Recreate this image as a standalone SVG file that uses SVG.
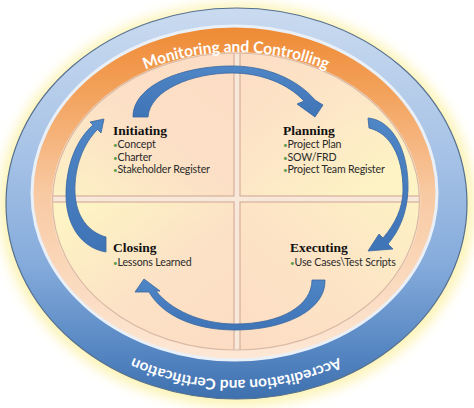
<svg xmlns="http://www.w3.org/2000/svg" width="474" height="408" viewBox="0 0 474 408">
<style>
.title{font-family:"Liberation Serif","DejaVu Serif",serif;font-weight:bold;font-size:13.5px;fill:#111}
.item{font-family:Lato,"Liberation Sans",sans-serif;font-size:10.6px;letter-spacing:-0.15px;fill:#2a2a2a}
.dot{fill:#5a9e4b;font-size:8px}
.ring{font-family:Lato,"Liberation Sans",sans-serif;font-weight:bold;fill:#ffffff}
.quad{stroke:#d6b09a;stroke-width:1.2}
.arrow{fill:url(#gArrow);stroke:#3a679f;stroke-width:0.8;stroke-linejoin:round}
</style>
<defs>
<filter id="blur" x="-20%" y="-20%" width="140%" height="140%"><feGaussianBlur stdDeviation="6"/></filter>
<linearGradient id="gBlue" x1="0" y1="0" x2="0" y2="1">
<stop offset="0" stop-color="#cadbf0"/><stop offset="0.35" stop-color="#a9c4e7"/><stop offset="0.65" stop-color="#86acdc"/><stop offset="0.88" stop-color="#5586c2"/><stop offset="1" stop-color="#3e70ae"/>
</linearGradient>
<linearGradient id="gOrange" gradientUnits="userSpaceOnUse" x1="0" y1="26" x2="0" y2="360">
<stop offset="0" stop-color="#ee8a34"/><stop offset="0.2" stop-color="#f3a25c"/><stop offset="0.5" stop-color="#f8c9a2"/><stop offset="1" stop-color="#fde8d6"/>
</linearGradient>
<linearGradient id="gTL" x1="1" y1="0" x2="0" y2="1"><stop offset="0" stop-color="#fcdcc4"/><stop offset="0.5" stop-color="#fce0c6"/><stop offset="1" stop-color="#fdf3c4"/></linearGradient>
<linearGradient id="gTR" x1="0" y1="0" x2="1" y2="1"><stop offset="0" stop-color="#fcdcc4"/><stop offset="0.45" stop-color="#fde6c7"/><stop offset="0.8" stop-color="#fdf3c4"/></linearGradient>
<linearGradient id="gBL" x1="1" y1="1" x2="0" y2="0"><stop offset="0" stop-color="#fcdcc4"/><stop offset="0.45" stop-color="#fce2c6"/><stop offset="0.85" stop-color="#fdf3c4"/></linearGradient>
<linearGradient id="gBR" x1="0" y1="1" x2="1" y2="0"><stop offset="0" stop-color="#fcdcc4"/><stop offset="0.5" stop-color="#fde4c6"/><stop offset="1" stop-color="#fdf3c4"/></linearGradient>
<linearGradient id="gArrow" x1="0" y1="0" x2="0" y2="1"><stop offset="0" stop-color="#4f86c6"/><stop offset="1" stop-color="#3f74b6"/></linearGradient>
<clipPath id="clipQ"><ellipse cx="236" cy="201.5" rx="183.5" ry="148.5"/></clipPath>
<path id="arcTop" d="M44,200 A192,148 0 0 1 428,200"/>
<path id="arcBottom" d="M450,198 A214,182 0 0 1 22,198"/>
</defs>

<g id="frame">
<ellipse cx="237" cy="205" rx="238" ry="202" fill="#fbf0a0" opacity="0.75" filter="url(#blur)"/>
<ellipse cx="236.5" cy="203.5" rx="230.5" ry="195.5" fill="url(#gBlue)" stroke="#56708f" stroke-width="1.2"/>
<ellipse cx="234.5" cy="193" rx="202.5" ry="167" fill="url(#gOrange)" stroke="#eaf0f8" stroke-width="3"/>
<ellipse cx="236" cy="201.5" rx="184.5" ry="149.5" fill="#f7e8da"/>
</g>

<g id="node-initiating">
<rect class="quad" x="30" y="40" width="204" height="156" fill="url(#gTL)" clip-path="url(#clipQ)"/>
<text class="title" x="113" y="135">Initiating</text>
<text class="item" x="113" y="148"><tspan class="dot">•</tspan>Concept</text>
<text class="item" x="113" y="160.7"><tspan class="dot">•</tspan>Charter</text>
<text class="item" x="113" y="173.4"><tspan class="dot">•</tspan>Stakeholder Register</text>
</g>

<g id="node-planning">
<rect class="quad" x="240" y="40" width="200" height="156" fill="url(#gTR)" clip-path="url(#clipQ)"/>
<text class="title" x="283" y="135">Planning</text>
<text class="item" x="283" y="148"><tspan class="dot">•</tspan>Project Plan</text>
<text class="item" x="283" y="160.7"><tspan class="dot">•</tspan>SOW/FRD</text>
<text class="item" x="283" y="173.4"><tspan class="dot">•</tspan>Project Team Register</text>
</g>

<g id="node-closing">
<rect class="quad" x="30" y="202" width="204" height="160" fill="url(#gBL)" clip-path="url(#clipQ)"/>
<text class="title" x="113" y="252">Closing</text>
<text class="item" x="113" y="265.5"><tspan class="dot">•</tspan>Lessons Learned</text>
</g>

<g id="node-executing">
<rect class="quad" x="240" y="202" width="200" height="160" fill="url(#gBR)" clip-path="url(#clipQ)"/>
<text class="title" x="290" y="252">Executing</text>
<text class="item" x="290" y="265.5"><tspan class="dot">•</tspan>Use Cases\Test Scripts</text>
</g>

<g id="quad-outline">
<ellipse cx="236" cy="201.5" rx="183.5" ry="148.5" fill="none" stroke="#dcb9a2" stroke-width="1.2"/>
</g>

<g id="ring-labels">
<text class="ring" font-size="16"><textPath href="#arcTop" startOffset="50%" text-anchor="middle" textLength="186" lengthAdjust="spacingAndGlyphs">Monitoring and Controlling</textPath></text>
<text class="ring" font-size="15"><textPath href="#arcBottom" startOffset="50%" text-anchor="middle" textLength="212" lengthAdjust="spacingAndGlyphs">Accreditation and Certification</textPath></text>
</g>

<g id="connectors">
<path class="arrow" d="M133,117 C133,86 180,66 232,66 C268,66 298,80 315,100 L323,105 L315,117 L297,104 L304,101 C288,84 262,73 232,73 C192,73 150,90 148,117 Z"/>
<path class="arrow" d="M368,118 C392,120 409,150 408,190 C407,212 400,230 388,244 L393,249 L368,251 L379,234 L383,238 C395,224 403,208 403,190 C403,156 390,133 369,128 Z"/>
<path class="arrow" d="M325,280 C326,310 285,330 235,330 C195,330 163,316 149,292 L135,292 L144,279 L160,291 L156,291 C170,309 200,324 235,324 C282,324 312,305 312,280 Z"/>
<path class="arrow" d="M106,252 C82,248 66,226 66,195 C66,163 78,138 93,125 L90,122 L104,119 L101,133 L97.5,129.5 C84,143 74,166 75,193 C76,216 88,232 106,237 Z"/>
</g>
</svg>
